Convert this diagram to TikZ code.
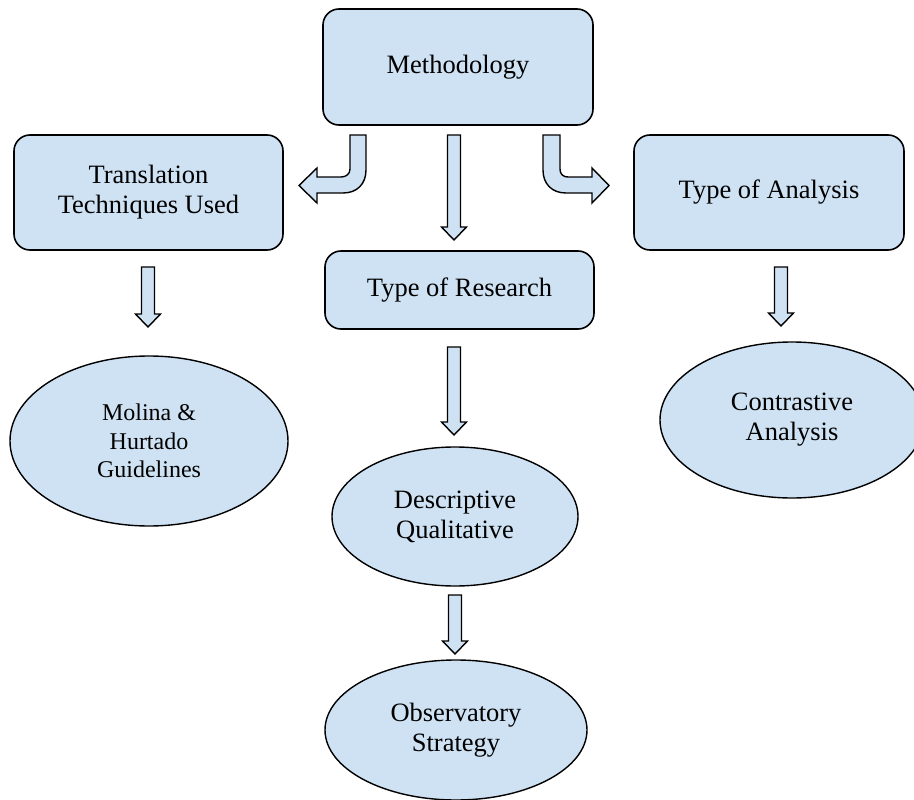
\documentclass[tikz,border=0pt]{standalone}
\usepackage{fontspec}
\setmainfont{Liberation Serif}
\usetikzlibrary{shapes.geometric}
\definecolor{boxblue}{RGB}{207,226,243}
\newcommand{\blockdown}[3]{% x, ytop, ytip
  \draw[blockarrow] ({#1-6.5},#2) -- ({#1+6.5},#2) -- ({#1+6.5},{#3-13}) -- ({#1+12.5},{#3-13}) -- (#1,#3) -- ({#1-12.5},{#3-13}) -- ({#1-6.5},{#3-13}) -- cycle;}
\begin{document}
\begin{tikzpicture}[x=1pt,y=-1pt,
  rbox/.style={draw=black, line width=1.6pt, fill=boxblue, rounded corners=16pt, align=center, inner sep=0pt, font=\fontsize{26.5}{30}\selectfont},
  ell/.style={ellipse, draw=black, line width=1.4pt, fill=boxblue, align=center, inner sep=0pt, font=\fontsize{26.5}{30}\selectfont},
  blockarrow/.style={draw=black, line width=1.4pt, fill=boxblue, line join=miter}]
\useasboundingbox (0,0) rectangle (914,800);
\node[rbox, minimum width=270pt, minimum height=116pt] (meth) at (458,67) {Methodology};
\node[rbox, minimum width=269pt, minimum height=115pt] (trans) at (148.5,192.5) {Translation\\Techniques Used};
\node[rbox, minimum width=270pt, minimum height=115pt] (anal) at (769,192.5) {Type of Analysis};
\node[rbox, minimum width=269pt, minimum height=78pt] (res) at (459.5,290) {Type of Research};
\node[ell, minimum width=278pt, minimum height=170pt, font=\fontsize{24}{28.5}\selectfont] (mol) at (149,441) {Molina \&\\Hurtado\\Guidelines};
\node[ell, minimum width=264pt, minimum height=156pt] (con) at (792,420) {Contrastive\\Analysis};
\node[ell, minimum width=246pt, minimum height=139pt] (desc) at (455,516.5) {Descriptive\\Qualitative};
\node[ell, minimum width=262pt, minimum height=140pt] (obs) at (456,730) {Observatory\\Strategy};
% straight block arrows
\blockdown{454}{135}{240}
\blockdown{148}{267}{327}
\blockdown{454}{347}{435}
\blockdown{781}{267}{326}
\blockdown{455}{595}{654}
% left bent arrow
\draw[blockarrow] (350,135) -- (366,135) -- (366,170) .. controls (366,184) and (357,193) .. (343,193)
  -- (317,193) -- (317,203) -- (299,185.5) -- (317,168) -- (317,177) -- (341,177)
  .. controls (346,177) and (350,174) .. (350,169) -- cycle;
% right bent arrow
\draw[blockarrow] (560,135) -- (543,135) -- (543,170) .. controls (543,184) and (552,193) .. (566,193)
  -- (592,193) -- (592,203) -- (609,185.5) -- (592,168) -- (592,177) -- (568,177)
  .. controls (563,177) and (560,174) .. (560,169) -- cycle;
\end{tikzpicture}
\end{document}
